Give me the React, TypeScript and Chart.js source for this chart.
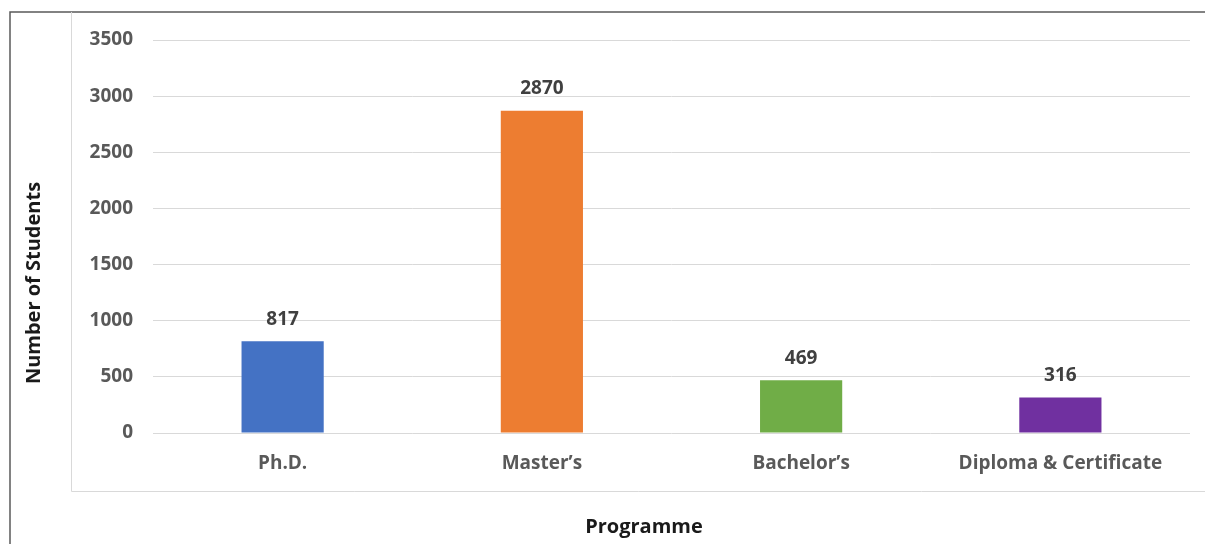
import React, { useEffect, useRef } from "react";
import { Chart, registerables } from "chart.js";

Chart.register(...registerables);

const categories = ["Ph.D.", "Master\u2019s", "Bachelor\u2019s", "Diploma & Certificate"];
const students = [817, 2870, 469, 316];
const barColors = ["#4472C4", "#ED7D31", "#70AD47", "#7030A0"];
const yTitle = "Number of Students";
const xTitle = "Programme";
const yMax = 3500;
const yStep = 500;

const FONT = "'Open Sans', Lato, sans-serif";
const FSIZE = 19;

const framePlugin = {
  id: "frame",
  beforeDraw(chart: any) {
    const ctx = chart.ctx;
    ctx.save();
    ctx.strokeStyle = "#595959";
    ctx.lineWidth = 1.5;
    ctx.beginPath();
    ctx.moveTo(10, 544);
    ctx.lineTo(10, 12);
    ctx.lineTo(1205, 12);
    ctx.stroke();
    ctx.strokeStyle = "#d9d9d9";
    ctx.lineWidth = 1;
    ctx.beginPath();
    ctx.moveTo(71.5, 12);
    ctx.lineTo(71.5, 491.5);
    ctx.lineTo(1205, 491.5);
    ctx.stroke();
    ctx.restore();
  },
  afterDraw(chart: any) {
    const ctx = chart.ctx;
    ctx.save();
    ctx.fillStyle = "#1a1a1a";
    ctx.font = `bold 20px ${FONT}`;
    ctx.textAlign = "center";
    ctx.textBaseline = "middle";
    ctx.fillText(xTitle, 644, 527);
    ctx.translate(34, 283);
    ctx.rotate(-Math.PI / 2);
    ctx.fillText(yTitle, 0, 0);
    ctx.restore();
  },
  afterDatasetsDraw(chart: any) {
    const ctx = chart.ctx;
    const meta = chart.getDatasetMeta(0);
    ctx.save();
    ctx.fillStyle = "#404040";
    ctx.font = `bold ${FSIZE}px ${FONT}`;
    ctx.textAlign = "center";
    ctx.textBaseline = "middle";
    meta.data.forEach((bar: any, i: number) => {
      ctx.fillText(String(students[i]), bar.x, bar.y - 22);
    });
    ctx.restore();
  },
};

export default function App() {
  const ref = useRef<HTMLCanvasElement | null>(null);
  useEffect(() => {
    if (!ref.current) return;
    const chart = new Chart(ref.current, {
      type: "bar",
      data: {
        labels: categories,
        datasets: [
          {
            data: students,
            backgroundColor: barColors,
            borderWidth: 0,
            categoryPercentage: 1,
            barPercentage: 0.317,
          },
        ],
      },
      options: {
        animation: false,
        responsive: false,
        maintainAspectRatio: false,
        layout: { padding: { top: 40, right: 15, left: 0, bottom: 0 } },
        plugins: { legend: { display: false }, tooltip: { enabled: false } },
        scales: {
          x: {
            grid: { display: false },
            border: { display: false },
            ticks: {
              color: "#595959",
              font: { family: FONT, size: FSIZE, weight: "bold" },
              padding: 11,
              maxRotation: 0,
              autoSkip: false,
            },
            afterFit(scale: any) {
              scale.height = 111;
            },
          },
          y: {
            min: 0,
            max: yMax,
            grid: { color: "#d9d9d9", lineWidth: 1, drawTicks: false },
            border: { display: false },
            ticks: {
              stepSize: yStep,
              color: "#595959",
              font: { family: FONT, size: FSIZE, weight: "bold" },
              padding: 20,
              callback: (v: any) => String(v),
            },
            afterFit(scale: any) {
              scale.width = 153;
            },
          },
        },
      },
      plugins: [framePlugin],
    });
    return () => chart.destroy();
  }, []);
  return (
    <div style={{ position: "absolute", left: 0, top: 0, width: 1205, height: 544, background: "#fff" }}>
      <canvas ref={ref} width={1205} height={544} style={{ display: "block" }} />
    </div>
  );
}
